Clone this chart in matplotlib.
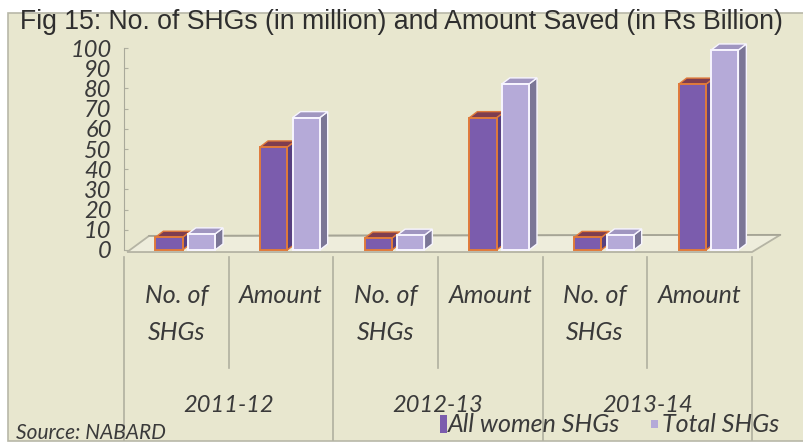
import matplotlib
matplotlib.use("Agg")
import matplotlib.pyplot as plt
from matplotlib.patches import Polygon, Rectangle
from matplotlib.lines import Line2D

# ---- data ----
years = ["2011-12", "2012-13", "2013-14"]
measures = ["No. of\nSHGs", "Amount"]
women_shgs = [6.3, 5.9, 6.2]          # million
total_shgs = [7.96, 7.32, 7.43]       # million
women_saved = [51.0, 65.5, 82.1]      # Rs billion
total_saved = [65.5, 82.2, 99.0]      # Rs billion
series_names = ["All women SHGs", "Total SHGs"]
yticks = list(range(0, 101, 10))

women_vals = [v for pair in zip(women_shgs, women_saved) for v in pair]
total_vals = [v for pair in zip(total_shgs, total_saved) for v in pair]
n_cat = len(women_vals)

# ---- styling ----
BG = "#e8e7cf"
W, H = 804, 445
fig = plt.figure(figsize=(W / 100, H / 100), dpi=100, facecolor="white")

def fx(px):
    return px / W

def fy(py):
    return 1 - py / H

# framed beige panel
fig.patches.append(Rectangle((fx(8), fy(441)), fx(796), 428 / H, transform=fig.transFigure,
                             facecolor=BG, edgecolor="#b8b8a8", lw=1.2, zorder=-5))

ax = fig.add_axes([fx(124), fy(250), fx(628), 202 / H])
ax.set_zorder(2)
ax.set_facecolor("none")
ax.set_xlim(-0.5, n_cat - 0.5)
ax.set_ylim(0, 100)
for s in ["top", "right", "bottom"]:
    ax.spines[s].set_visible(False)
ax.spines["left"].set_color("#a9a99a")
ax.spines["left"].set_bounds(0, 100)
ax.set_xticks([])
ax.set_yticks(yticks)
ax.set_yticklabels([str(t) for t in yticks], fontsize=17, style="italic",
                   family="Lato", color="#3a3a3a")
ax.tick_params(axis="y", direction="in", length=3, color="#b0b0a0", pad=9)

width = 0.26
dx, dy = 0.076, 3.0

# floor of the 3D plot
floor = Polygon([(-0.47, -1), (n_cat - 0.5, -1), (n_cat - 0.5 + 0.27, 7.5), (-0.5 + 0.24, 7.0)],
                closed=True, facecolor="#eeeddc", edgecolor="#b5b4a4", lw=1.3,
                clip_on=False, zorder=1)
ax.add_patch(floor)
ax.plot([-0.5 + 0.24, n_cat - 0.5 + 0.27], [7.0, 7.5], color="#a6a596", lw=1.2,
        clip_on=False, zorder=1)


def bar3d(x, h, front, top, side, edge, z):
    x0, x1 = x - width / 2, x + width / 2
    ax.add_patch(Polygon([(x1, 0), (x1 + dx, dy), (x1 + dx, h + dy), (x1, h)], closed=True,
                         facecolor=side, edgecolor=edge, lw=1.0, zorder=z, clip_on=False))
    ax.add_patch(Polygon([(x0, h), (x1, h), (x1 + dx, h + dy), (x0 + dx, h + dy)], closed=True,
                         facecolor=top, edgecolor=edge, lw=1.0, zorder=z, clip_on=False))
    ax.bar(x, h, width=width, color=front, edgecolor=edge, lw=1.4, zorder=z + 0.1, clip_on=False)


for i in range(n_cat):
    bar3d(i - 0.07, women_vals[i], "#7b5cad", "#7e3d4f", "#573f80", "#e07a3a", 3)
    bar3d(i + 0.24, total_vals[i], "#b5aad8", "#a096c0", "#7b7696", "#f7f5ff", 4)

# ---- category table below the plot ----
cell_w = 628 / n_cat
txt_color = "#3a3a3a"
for i in range(n_cat + 1):
    xpx = 124 + i * cell_w
    major = i % 2 == 0
    y_end = 440 if major else 368
    fig.add_artist(Line2D([fx(xpx), fx(xpx)], [fy(257), fy(y_end)], transform=fig.transFigure,
                          color="#b0b0a0", lw=1.2))
for i in range(n_cat):
    xc = 124 + (i + 0.5) * cell_w
    fig.text(fx(xc), fy(284), measures[i % 2], ha="center", va="top", fontsize=18,
             style="italic", family="Lato", color=txt_color, linespacing=1.75)
for j, yr in enumerate(years):
    xc = 124 + (2 * j + 1) * cell_w
    fig.text(fx(xc), fy(405), yr, ha="center", va="center", fontsize=17,
             style="italic", family="Lato", color=txt_color)

# title
fig.text(fx(20), fy(22), "Fig 15: No. of SHGs (in million) and Amount Saved (in Rs Billion)",
         ha="left", va="center", fontsize=19.2, family="Liberation Sans", color="#2e2e2e")

# legend
fig.patches.append(Rectangle((fx(440), fy(433)), fx(7), 18 / H, transform=fig.transFigure,
                             facecolor="#7b5cad", edgecolor="none"))
fig.text(fx(448), fy(424), series_names[0], ha="left", va="center", fontsize=18,
         style="italic", family="Lato", color=txt_color)
fig.patches.append(Rectangle((fx(651), fy(428)), fx(7), 8 / H, transform=fig.transFigure,
                             facecolor="#b5aad8", edgecolor="none"))
fig.text(fx(662), fy(424), series_names[1], ha="left", va="center", fontsize=18,
         style="italic", family="Lato", color=txt_color)

# source note
fig.text(fx(16), fy(433), "Source: NABARD", ha="left", va="center", fontsize=15,
         style="italic", family="Lato", color=txt_color)

fig.savefig("out.png", dpi=100, facecolor="white")
